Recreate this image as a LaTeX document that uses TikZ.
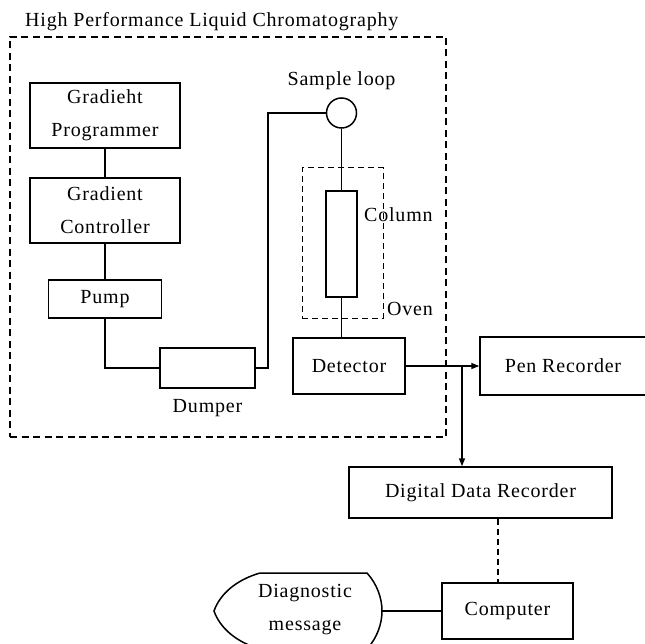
\documentclass[tikz,border=0pt]{standalone}
\usepackage{fontspec}
\setmainfont{Liberation Serif}[LetterSpace=4]
\usetikzlibrary{arrows.meta}
\begin{document}
\begin{tikzpicture}[x=1pt,y=-1pt,
  every node/.style={font=\fontsize{20}{33}\selectfont},
  box/.style={draw,line width=1.5pt,inner sep=0pt,align=center},
  dbox/.style={draw,line width=1.2pt,dash pattern=on 7pt off 4.5pt,inner sep=0pt},
  conn/.style={line width=1.5pt},
  arr/.style={line width=1.5pt,-{Triangle[length=8pt,width=6pt]}},
  lbl/.style={inner sep=0pt}]
\useasboundingbox (0,0) rectangle (645,644);
\begin{scope}
\clip (0,0) rectangle (645,644);
% title and outer box
\node[lbl,anchor=west] (title) at (25,22) {High Performance Liquid Chromatography};
\node[dbox,minimum width=436pt,minimum height=400pt] (hplc) at (228,237) {};
% left column
\node[box,minimum width=150pt,minimum height=65pt] (prog) at (105,115.5) {Gradieht\\Programmer};
\node[box,minimum width=150pt,minimum height=65pt] (ctrl) at (105,210.5) {Gradient\\Controller};
\node[box,minimum width=113pt,minimum height=38pt] (pump) at (105,299) {Pump};
\node[box,minimum width=95pt,minimum height=40pt] (dumper) at (207.5,368) {};
\node[lbl] (dumperlbl) at (207.5,408) {Dumper};
% sample loop, oven, column
\node[draw,circle,line width=1.5pt,minimum size=30pt,inner sep=0pt] (loop) at (341.5,113) {};
\node[lbl] (looplbl) at (341.5,81) {Sample loop};
\node[dbox,line width=1pt,dash pattern=on 6pt off 4pt,minimum width=81pt,minimum height=150pt] (oven) at (342.5,243) {};
\node[box,minimum width=31pt,minimum height=106pt] (column) at (341.5,244) {};
\node[lbl,anchor=west] (collbl) at (364,215) {Column};
\node[lbl] (ovenlbl) at (410,309) {Oven};
\node[box,minimum width=112pt,minimum height=56pt] (detector) at (349,366) {Detector};
% outputs
\node[box,minimum width=172pt,minimum height=58pt] (pen) at (566,366) {};
\node[lbl] (penlbl) at (563,366) {Pen Recorder};
\node[box,minimum width=263pt,minimum height=51pt] (ddr) at (480.5,492.5) {Digital Data Recorder};
\node[box,minimum width=131pt,minimum height=56pt] (computer) at (507.5,611) {Computer};
\node[lbl,align=center] (diag) at (305,610) {Diagnostic\\message};
\coordinate (dTL) at (260,573);
\coordinate (dTR) at (367,573);
\coordinate (diagE) at (382,611);
\coordinate (dBR) at (367,649);
\coordinate (dBL) at (260,649);
\coordinate (diagW) at (214,611);
\draw[line width=1.5pt] (dTL) -- (dTR) .. controls (377,584) and (382,598) .. (diagE)
  .. controls (382,624) and (377,638) .. (dBR) -- (dBL)
  .. controls (236,642) and (220,628) .. (diagW)
  .. controls (220,594) and (236,580) .. (dTL) -- cycle;
% connectors
\draw[conn] (prog.south) -- (ctrl.north);
\draw[conn] (ctrl.south) -- (pump.north);
\draw[conn] (pump.south) -- (pump.south |- dumper.west) -- (dumper.west);
\draw[conn] (dumper.east) -- ++(12,0) |- (loop.west);
\draw[conn] (loop.south) -- (column.north);
\draw[conn] (column.south) -- (column.south |- detector.north);
\draw[arr] (detector.east) -- (pen.west);
\coordinate (junc) at (462,366);
\draw[arr] (junc) -- (junc |- ddr.north);
\coordinate (dx) at (498,0);
\draw[conn,line width=1.1pt,dash pattern=on 6pt off 4pt] (ddr.south -| dx) -- (computer.north -| dx);
\draw[conn] (diagE) -- (computer.west);
\end{scope}
\end{tikzpicture}
\end{document}
